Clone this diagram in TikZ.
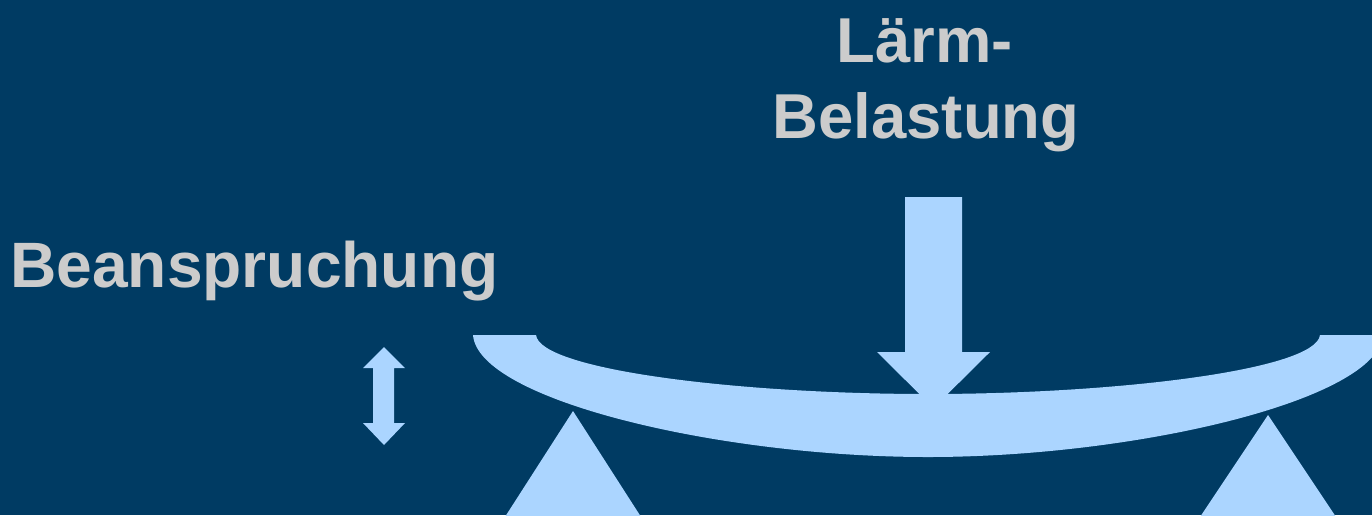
\documentclass[tikz,border=0pt]{standalone}
\usepackage{fontspec}
\setmainfont{Liberation Sans}
\definecolor{bg}{RGB}{0,59,99}
\definecolor{lb}{RGB}{171,213,255}
\definecolor{tx}{RGB}{204,204,204}
\begin{document}
\begin{tikzpicture}[x=0.02cm,y=-0.02cm,
  lbl/.style={text=tx,font=\fontsize{36.1pt}{43.3pt}\selectfont\bfseries,inner sep=0pt,anchor=base},
  shapefill/.style={fill=lb,draw=none}]
\fill[bg] (0,0) rectangle (1372,515);
\useasboundingbox (0,0) rectangle (1372,515);
\begin{scope}
\clip (0,0) rectangle (1372,515);
% supports
\fill[shapefill] (573,411) -- (643,520) -- (503,520) -- cycle;
\fill[shapefill] (1268,415) -- (1338,520) -- (1198,520) -- cycle;
% load arrow
\fill[shapefill] (905,197) -- (962,197) -- (962,352) -- (990,352) -- (933.5,408) -- (877,352) -- (905,352) -- cycle;
% beam
\fill[shapefill] (473,335) -- (536,335)
  .. controls (540,370) and (740,394) .. (928,394)
  .. controls (1116,394) and (1316,370) .. (1320,335)
  -- (1383,335)
  .. controls (1378,400) and (1136,457) .. (928,457)
  .. controls (720,457) and (478,400) .. (473,335) -- cycle;
% small double arrow
\fill[shapefill] (384,347) -- (405,368) -- (394,368) -- (394,423) -- (405,423) -- (384,445) -- (363,423) -- (373,423) -- (373,368) -- (363,368) -- cycle;
\end{scope}
\node[lbl] (l1) at (925,62) {Lärm-};
\node[lbl] (l2) at (926,138) {Belastung};
\node[lbl,anchor=base west,font=\fontsize{36.5pt}{43.8pt}\selectfont\bfseries] (b) at (10,287) {Beanspruchung};
\end{tikzpicture}
\end{document}
